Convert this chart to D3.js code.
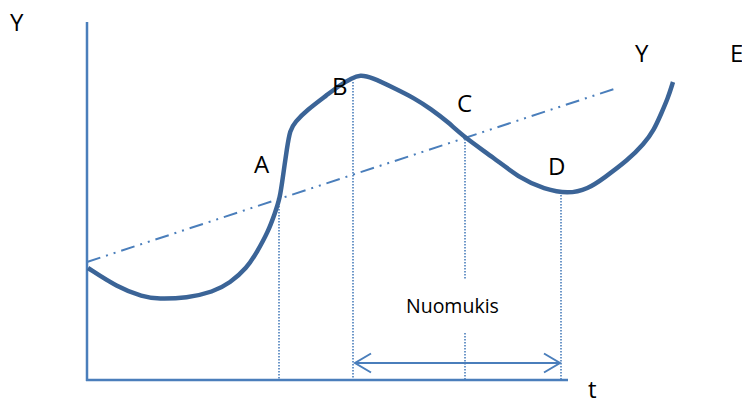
<!DOCTYPE html>
<html>
<head>
<meta charset="utf-8">
<script src="https://cdn.jsdelivr.net/npm/d3@7"></script>
<style>
  html, body { margin: 0; padding: 0; background: #fff; }
  svg { display: block; }
  text { font-family: "Open Sans", "Liberation Sans", sans-serif; fill: #000; }
</style>
</head>
<body>
<svg id="chart" width="742" height="401"></svg>
<script>
// ---- Data (arbitrary units: t horizontal, Y vertical) ----
const curveT = [1, 30, 56, 71, 100, 126, 143, 160, 170, 181, 188, 193, 196, 200, 203, 208, 220, 240, 253, 265, 273, 284, 309, 327, 344, 361, 377, 407, 434, 457, 481, 501, 517, 541, 557, 567, 574, 581, 586];
const curveY = [112, 93, 83, 81, 82, 88, 97, 112, 128, 148, 167, 182, 204, 232, 250, 258, 270, 285, 295, 302, 305, 303, 291, 282, 271, 258, 243, 222, 201, 191, 186, 191, 202, 220, 236, 250, 266, 282, 298];

const trendT = [0, 527];
const trendY = [118, 291];

// dotted guide lines: t, top Y, bottom Y (segments)
const guideT = [192, 266, 378, 378, 474];
const guideTop = [180, 298, 241, 47, 185];
const guideBottom = [0, 0, 100, 0, 0];

// cycle span arrow
const spanT = [268, 473];
const spanY = 17;

// axis extents
const axisTMax = 481;
const axisYMax = 358;

// point labels
const labelText = ["A", "B", "C", "D", "Y", "E"];
const labelT = [167, 245, 370, 461, 548, 643];
const labelY = [207, 285, 268, 205, 318, 318];

const axisLabels = ["Y", "t"];
const spanLabel = "Nuomukis";

// ---- Scales ----
const x = d3.scaleLinear().domain([0, 600]).range([87, 687]);
const y = d3.scaleLinear().domain([0, 360]).range([380, 20]);

const svg = d3.select("#chart");
const blue = "#4a7ebb";
const dark = "#3b6497";

// axes
svg.append("line")
  .attr("x1", x(0)).attr("x2", x(0))
  .attr("y1", y(0) + 1).attr("y2", y(axisYMax))
  .attr("stroke", blue).attr("stroke-width", 2.5);
svg.append("line")
  .attr("x1", x(0) - 1).attr("x2", x(axisTMax))
  .attr("y1", y(0)).attr("y2", y(0))
  .attr("stroke", blue).attr("stroke-width", 2.5);

// guides
guideT.forEach((t, i) => {
  svg.append("line")
    .attr("x1", x(t)).attr("x2", x(t))
    .attr("y1", y(guideTop[i])).attr("y2", y(guideBottom[i]))
    .attr("stroke", blue).attr("stroke-width", 1.6)
    .attr("stroke-dasharray", "1.6,1.4");
});

// trend line
svg.append("line")
  .attr("x1", x(trendT[0])).attr("y1", y(trendY[0]))
  .attr("x2", x(trendT[1])).attr("y2", y(trendY[1]))
  .attr("stroke", blue).attr("stroke-width", 2)
  .attr("stroke-dasharray", "14,6,2,6,2,6");

// main curve
const pts = curveT.map((t, i) => [t, curveY[i]]);
const line = d3.line().x(d => x(d[0])).y(d => y(d[1])).curve(d3.curveBasis);
svg.append("path")
  .attr("d", line(pts))
  .attr("fill", "none")
  .attr("stroke", dark)
  .attr("stroke-width", 4.5)
  .attr("stroke-linecap", "butt")
  .attr("stroke-linejoin", "round");

// span arrow
const ax1 = x(spanT[0]), ax2 = x(spanT[1]), ay = y(spanY);
svg.append("line")
  .attr("x1", ax1).attr("x2", ax2).attr("y1", ay).attr("y2", ay)
  .attr("stroke", blue).attr("stroke-width", 2);
svg.append("path")
  .attr("d", `M${ax1 + 16},${ay - 9.5}L${ax1},${ay}L${ax1 + 16},${ay + 9.5}`)
  .attr("fill", "none").attr("stroke", blue).attr("stroke-width", 2);
svg.append("path")
  .attr("d", `M${ax2 - 16},${ay - 9.5}L${ax2},${ay}L${ax2 - 16},${ay + 9.5}`)
  .attr("fill", "none").attr("stroke", blue).attr("stroke-width", 2);

// point labels
labelText.forEach((s, i) => {
  svg.append("text")
    .attr("x", x(labelT[i])).attr("y", y(labelY[i]))
    .attr("font-size", 24)
    .text(s);
});

// axis labels
svg.append("text").attr("x", 10).attr("y", 31).attr("font-size", 24).text(axisLabels[0]);
svg.append("text").attr("x", 588).attr("y", 398).attr("font-size", 24).text(axisLabels[1]);

// span label
svg.append("text").attr("x", 406).attr("y", 313).attr("font-size", 19.5).text(spanLabel);
</script>
</body>
</html>
